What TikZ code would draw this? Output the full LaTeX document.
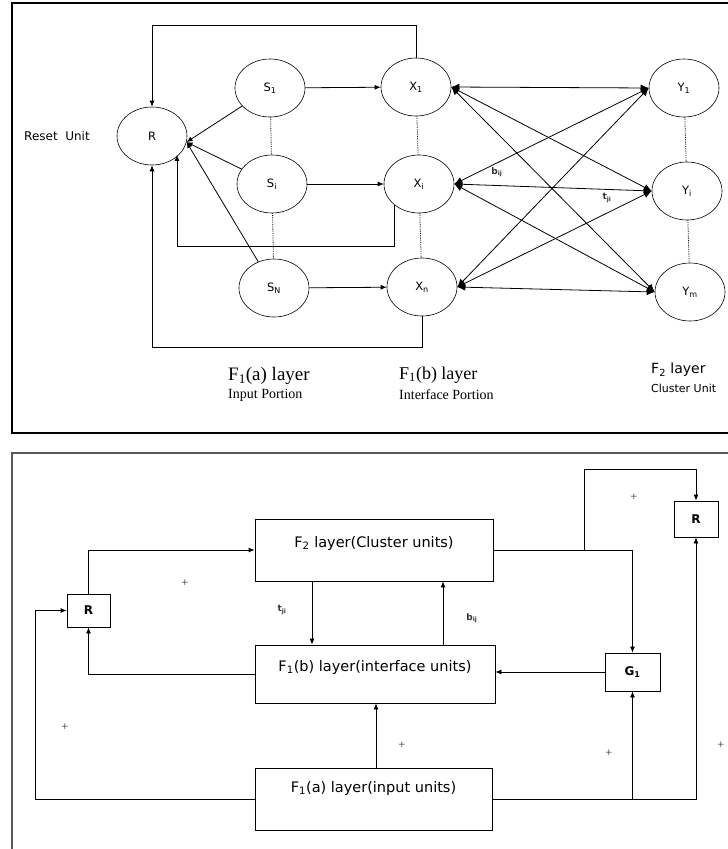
\documentclass[tikz,border=0pt]{standalone}
\usepackage{fontspec}
\setmainfont{DejaVu Sans}
\newfontfamily\serifx{Liberation Serif}
\usetikzlibrary{arrows.meta,shapes.geometric}
\newcommand{\sbx}[1]{\textsubscript{#1}}
\begin{document}
\begin{tikzpicture}[x=1pt,y=-1pt,
 unit/.style={ellipse,draw,line width=0.6pt,minimum width=70pt,minimum height=58pt,inner sep=0pt,font=\fontsize{11.5}{12}\selectfont},
 con/.style={line width=0.8pt},
 arr/.style={con,-{Latex[length=6pt,width=5pt]}},
 big/.style={con,{Latex[length=8pt,width=7pt]}-{Latex[length=8pt,width=7pt]}},
 dotl/.style={line width=0.8pt,densely dotted},
 blk/.style={draw,line width=0.8pt,inner sep=0pt},
 rbox/.style={draw,line width=0.8pt,inner sep=0pt,font=\bfseries\fontsize{12}{13}\selectfont},
 blab/.style={font=\fontsize{14.5}{15}\selectfont},
 plus/.style={font=\fontsize{9}{10}\selectfont,text=black!70},
 lab/.style={font=\bfseries\fontsize{9}{10}\selectfont,inner sep=1pt,text=black!80}
]
\useasboundingbox (0,0) rectangle (728,849);
% frames
\draw[line width=2.5pt] (740,3) -- (12,3) -- (12,433) -- (740,433);
\draw[line width=1.5pt,black!65] (740,453) -- (12,453) -- (12,860);

% ---------- top panel ----------
\node[unit] (R) at (152,136) {R};
\node[unit] (S1) at (270,88) {S\sbx{1}};
\node[unit] (Si) at (272,184) {S\sbx{i}};
\node[unit] (SN) at (274,288) {S\sbx{N}};
\node[unit] (X1) at (416,87) {X\sbx{1}};
\node[unit] (Xi) at (419,184) {X\sbx{i}};
\node[unit] (Xn) at (422,287) {X\sbx{n}};
\node[unit] (Y1) at (684,88) {Y\sbx{1}};
\node[unit] (Yi) at (687,191) {Y\sbx{i}};
\node[unit] (Ym) at (690,292) {Y\sbx{m}};

\node[font=\fontsize{12}{13}\selectfont] (reset) at (57,136) {Reset\ \ Unit};

\coordinate (rt) at (R.-10);
\coordinate (ri) at (177,246);
\coordinate (topl) at (0,25);
\draw[arr] (X1.north) |- (R.north |- topl) -- (R.north);
\draw[arr] (Xn.south) -- ++(0,31) -| (R.south);
\draw[arr] (Xi.south west) |- (ri) -- (ri |- R.-35);

\draw[arr] (S1) -- (rt);
\draw[arr] (Si) -- (rt);
\draw[arr] (SN) -- (rt);
\draw[arr] (S1) -- (X1);
\draw[arr] (Si) -- (Xi);
\draw[arr] (SN) -- (Xn);

\draw[dotl] (S1) -- (Si);
\draw[dotl] (Si) -- (SN);
\draw[dotl] (X1) -- (Xi);
\draw[dotl] (Xi) -- (Xn);
\draw[dotl] (Y1) -- (Yi);
\draw[dotl] (Yi) -- (Ym);

\foreach \a in {X1,Xi,Xn}
  \foreach \b in {Y1,Yi,Ym}
    \draw[big] (\a.east) -- (\b.west);

\node[lab] (bij) at (497,172) {b\sbx{ij}};
\node[lab] (tji) at (607,198) {t\sbx{ji}};

\node[anchor=west,font=\serifx\fontsize{19}{20}\selectfont,inner sep=0pt] (fa) at (228,376) {F\sbx{1}(a) layer};
\node[anchor=west,font=\serifx\fontsize{14}{15}\selectfont,inner sep=0pt] (fai) at (228,395) {Input Portion};
\node[anchor=west,font=\serifx\fontsize{18}{19}\selectfont,inner sep=0pt] (fb) at (399,375) {F\sbx{1}(b) layer};
\node[anchor=west,font=\serifx\fontsize{14}{15}\selectfont,inner sep=0pt] (fbi) at (399,395) {Interface Portion};
\node[anchor=west,font=\fontsize{14}{15}\selectfont,inner sep=0pt] (f2) at (651,370) {F\sbx{2} layer};
\node[anchor=west,font=\fontsize{11}{12}\selectfont,inner sep=0pt] (f2i) at (651,388) {Cluster Unit};

% ---------- bottom panel ----------
\node[blk,minimum width=238pt,minimum height=62pt,
  label={[blab,yshift=7pt]center:F\sbx{2} layer(Cluster units)}] (F2) at (374,550) {};
\node[blk,minimum width=240pt,minimum height=58pt,
  label={[blab,yshift=7pt]center:F\sbx{1}(b) layer(interface units)}] (F1b) at (375,674) {};
\node[blk,minimum width=237pt,minimum height=62pt,
  label={[blab,yshift=11pt]center:F\sbx{1}(a) layer(input units)}] (F1a) at (373.5,799) {};
\node[rbox,minimum width=43pt,minimum height=33pt] (RL) at (88.5,610.5) {R};
\node[rbox,minimum width=44pt,minimum height=36pt] (RR) at (696,519) {R};
\node[rbox,minimum width=55pt,minimum height=38pt] (G) at (632.5,672) {G\sbx{1}};

\coordinate (la) at (35,799);
\coordinate (tjx) at (312,0);
\coordinate (bix) at (443,0);
\coordinate (brx) at (584,0);
\coordinate (tp) at (696,469);
\coordinate (fax) at (376,0);

\draw[arr] (RL.north) |- (F2.west);
\draw[arr] (F1b.west) -| (RL.south);
\draw[arr] (F1a.west) -| (la |- RL.west) -- (RL.west);
\draw[arr] (F2.south -| tjx) -- (F1b.north -| tjx);
\draw[arr] (F1b.north -| bix) -- (F2.south -| bix);
\draw[arr] (F2.east) -| (G.north);
\draw[arr] (F2.east -| brx) |- (tp) -- (RR.north);
\draw[arr] (F1a.east) -| (RR.south);
\draw[arr] (F1a.east -| G.south) -- (G.south);
\draw[arr] (G.west) -- (F1b.east |- G.west);
\draw[arr] (F1a.north -| fax) -- (F1b.south -| fax);

\node[lab] (tl) at (282,610) {t\sbx{ji}};
\node[lab] (bl) at (472,618) {b\sbx{ij}};

\node[plus] (p1) at (185,583) {+};
\node[plus] (p2) at (634,497) {+};
\node[plus] (p3) at (65,727) {+};
\node[plus] (p4) at (402,745) {+};
\node[plus] (p5) at (609,753) {+};
\node[plus] (p6) at (721,745) {+};
\end{tikzpicture}
\end{document}
